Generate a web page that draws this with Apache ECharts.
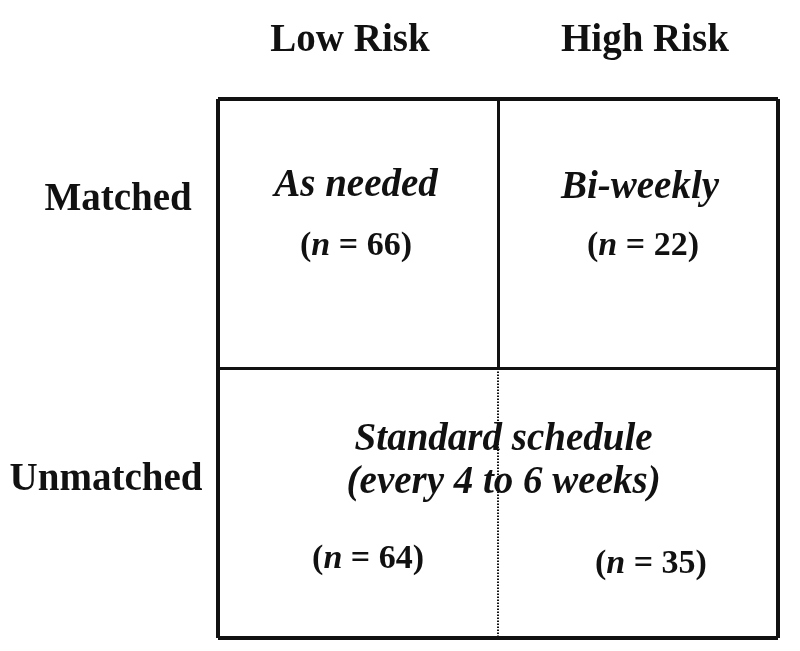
<!DOCTYPE html>
<html>
<head>
<meta charset="utf-8">
<script src="https://cdn.jsdelivr.net/npm/echarts@6/dist/echarts.min.js"></script>
<style>html,body{margin:0;padding:0;background:#fff}#c{width:800px;height:651px}</style>
</head>
<body>
<div id="c"></div>
<script>
// ---- data ----
const columns = ['Low Risk', 'High Risk'];
const rows = ['Matched', 'Unmatched'];
const schedules = ['As needed', 'Bi-weekly', 'Standard schedule\n(every 4 to 6 weeks)'];
const counts = [66, 22, 64, 35]; // Matched-Low, Matched-High, Unmatched-Low, Unmatched-High

// ---- build ----
const FONT = '"Liberation Serif", "Times New Roman", serif';
const INK = '#111';
const chart = echarts.init(document.getElementById('c'));

// grid segments in data units (x 0..2, y 0..2 with y inverted)
const solidOuter = [
  [[0,0],[2,0]], [[2,0],[2,2]], [[2,2],[0,2]], [[0,2],[0,0]]
];
const solidInner = [ [[0,1],[2,1]], [[1,0],[1,1]] ];
const dottedInner = [ [[1,1],[1,2]] ];

function seg(list, width, type) {
  return {
    type: 'lines', coordinateSystem: 'cartesian2d', polyline: false, silent: true,
    lineStyle: { color: INK, width: width, type: type, opacity: 1 },
    data: list.map(c => ({ coords: c })), z: 2
  };
}

function txt(x, y, text, opts, dx) {
  return {
    value: [x, y],
    label: Object.assign({ show: true, position: 'inside', formatter: text, offset: [dx || 0, 3] }, opts || {})
  };
}

const headStyle = { fontFamily: FONT, fontWeight: 'bold', fontSize: 39, color: INK, opacity: 1 };
const italStyle = { fontFamily: FONT, fontWeight: 'bold', fontStyle: 'italic', fontSize: 39, color: INK, lineHeight: 43, opacity: 1 };
const nRich = {
  p: { fontFamily: FONT, fontWeight: 'bold', fontSize: 34, color: INK },
  i: { fontFamily: FONT, fontWeight: 'bold', fontStyle: 'italic', fontSize: 34, color: INK }
};
function nText(v) { return '{p|(}{i|n}{p| = ' + v + ')}'; }
const nStyle = { rich: nRich, color: INK, opacity: 1 };

const labels = [
  txt(0.5, -0.226, columns[0], headStyle, -8),
  txt(1.5, -0.226, columns[1], headStyle, 7),
  txt(-0.357, 0.365, rows[0], headStyle),
  txt(-0.40, 1.403, rows[1], headStyle),
  txt(0.5, 0.31, schedules[0], italStyle, -2),
  txt(1.5, 0.317, schedules[1], italStyle, 2),
  txt(1.02, 1.332, schedules[2], italStyle),
  txt(0.5, 0.534, nText(counts[0]), nStyle, -2),
  txt(1.5, 0.534, nText(counts[1]), nStyle, 5),
  txt(0.536, 1.696, nText(counts[2]), nStyle),
  txt(1.546, 1.714, nText(counts[3]), nStyle)
];

chart.setOption({
  backgroundColor: '#fff',
  animation: false,
  grid: { left: 218, top: 99, width: 560, height: 539 },
  xAxis: { type: 'value', min: 0, max: 2, show: false },
  yAxis: { type: 'value', min: 0, max: 2, inverse: true, show: false },
  series: [
    seg(solidOuter, 4, 'solid'),
    seg(solidInner, 3, 'solid'),
    seg(dottedInner, 2, [1.5, 1.5]),
    { type: 'scatter', symbolSize: 0, clip: false, silent: true,
      itemStyle: { opacity: 1 }, emphasis: { disabled: true },
      data: labels, z: 5 }
  ]
});
</script>
</body>
</html>
